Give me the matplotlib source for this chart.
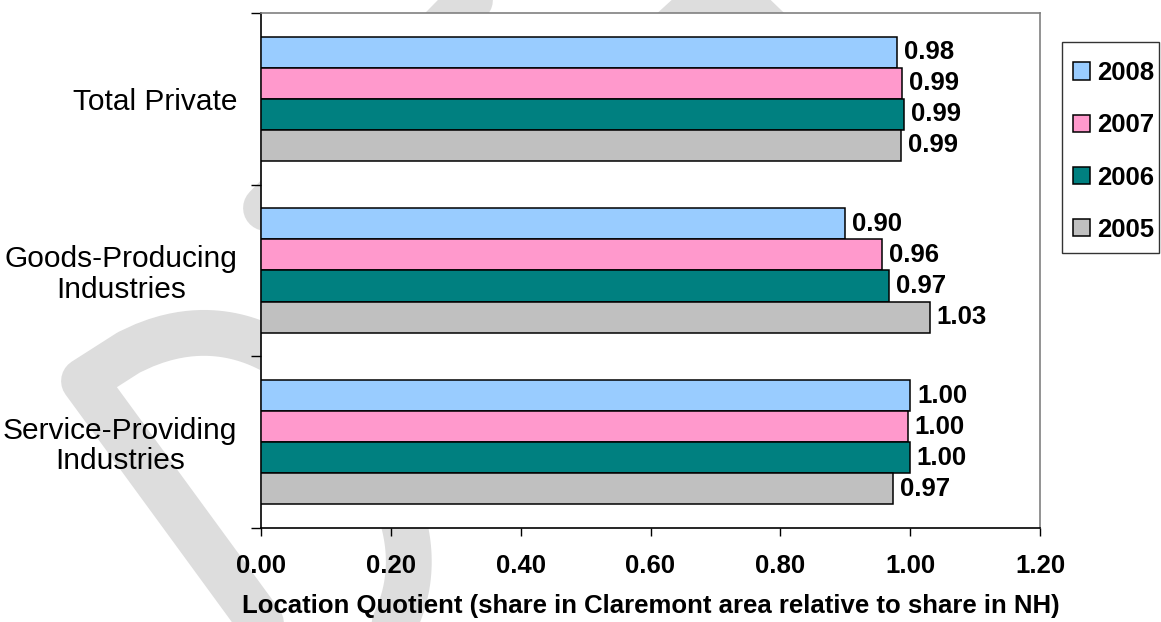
"""Location quotients for the Claremont area vs. New Hampshire, 2005-2008."""

import numpy as np
import matplotlib.pyplot as plt
from matplotlib.lines import Line2D
from matplotlib.patches import Rectangle

plt.rcParams["font.family"] = ["Liberation Sans", "DejaVu Sans"]

industries = ["Total Private", "Goods-Producing\nIndustries", "Service-Providing\nIndustries"]
years = ["2008", "2007", "2006", "2005"]
lq_2008 = [0.980, 0.899, 1.000]
lq_2007 = [0.987, 0.957, 0.996]
lq_2006 = [0.991, 0.967, 0.999]
lq_2005 = [0.986, 1.030, 0.973]
year_colors = ["#99CCFF", "#FF99CC", "#008080", "#C0C0C0"]
x_ticks = [0.0, 0.2, 0.4, 0.6, 0.8, 1.0, 1.2]

W, H = 1161, 622
fig = plt.figure(figsize=(W / 100, H / 100), dpi=100, facecolor="white")


def to_fig(pts):
    pts = np.asarray(pts, float)
    return pts[:, 0] / W, 1 - pts[:, 1] / H


# light grey "draft" stamp sitting behind the chart
stamp_kw = dict(color="#dddddd", lw=33, solid_capstyle="round",
                solid_joinstyle="round", transform=fig.transFigure, zorder=-5)
corner = np.array([84.0, 381.0])
stem_dir = np.array([0.59, 0.807])
bowl_dir = np.array([0.807, -0.59])
stem_len, bowl_w = 400, 190
u = np.linspace(0, stem_len, 120)
v = bowl_w * (1 - np.abs(2 * u / stem_len - 1) ** 2.5) ** (1 / 2.5)
bowl = corner + np.outer(u, stem_dir) + np.outer(v, bowl_dir)
letter_d = np.vstack([corner + stem_len * stem_dir, corner, bowl])
strokes = [
    letter_d,
    [(266, 208), (470, 0)],
    [(640, 60), (722, -15), (800, 60)],
    [(1022, -12), (1060, -80)],
]
for s in strokes:
    fig.add_artist(Line2D(*to_fig(s), **stamp_kw))

ax = fig.add_axes([261 / W, 1 - 528 / H, (1040 - 261) / W, (528 - 13) / H])
ax.set_facecolor("white")

y = np.arange(len(industries))
bar_h = 0.181
series = [lq_2008, lq_2007, lq_2006, lq_2005]
bold = dict(fontsize=18.5, fontweight="bold")

for i, (vals, year, col) in enumerate(zip(series, years, year_colors)):
    bars = ax.barh(y + (i - 1.5) * bar_h, vals, height=bar_h, color=col,
                   edgecolor="black", linewidth=1.1, label=year, zorder=3)
    ax.bar_label(bars, fmt="%.2f", padding=5, **bold)

ax.set_xlim(0, 1.2)
ax.set_ylim(len(industries) - 0.5, -0.5)

ax.set_xticks(x_ticks)
ax.set_xticklabels([f"{t:.2f}" for t in x_ticks], **bold)
ax.tick_params(axis="x", direction="out", length=6, width=1, pad=13, colors="black")

# tick marks between categories, labels at the category centres
ax.set_yticks(np.arange(len(industries) + 1) - 0.5)
ax.set_yticklabels([])
ax.set_yticks(y, minor=True)
ax.set_yticklabels(industries, minor=True, fontsize=21.5, multialignment="center")
ax.tick_params(axis="y", which="major", direction="out", length=7.5, width=1)
ax.tick_params(axis="y", which="minor", length=0, pad=17)
for lbl in ax.get_yticklabels(minor=True):
    lbl.set_linespacing(1.1)

for side in ["left", "bottom"]:
    ax.spines[side].set_color("black")
    ax.spines[side].set_linewidth(1.2)
for side in ["top", "right"]:
    ax.spines[side].set_color("#808080")
    ax.spines[side].set_linewidth(1.2)

ax.set_xlabel("Location Quotient (share in Claremont area relative to share in NH)",
              labelpad=11.5, **bold)

# legend entries without their own frame; the box is drawn separately
leg = fig.legend(loc="upper left", bbox_to_anchor=(1062 / W, 1 - 50 / H),
                 borderaxespad=0, frameon=False,
                 prop=dict(size=18.5, weight="bold"), handlelength=0.66,
                 handleheight=0.66, handletextpad=0.28, labelspacing=1.1,
                 borderpad=0.43)
fig.add_artist(Rectangle((1062 / W, 1 - 253 / H), (1159 - 1062) / W, (253 - 42) / H,
                         transform=fig.transFigure, facecolor="none",
                         edgecolor="#333333", linewidth=1.0, zorder=4))

fig.savefig("out.png", dpi=100, facecolor="white")
